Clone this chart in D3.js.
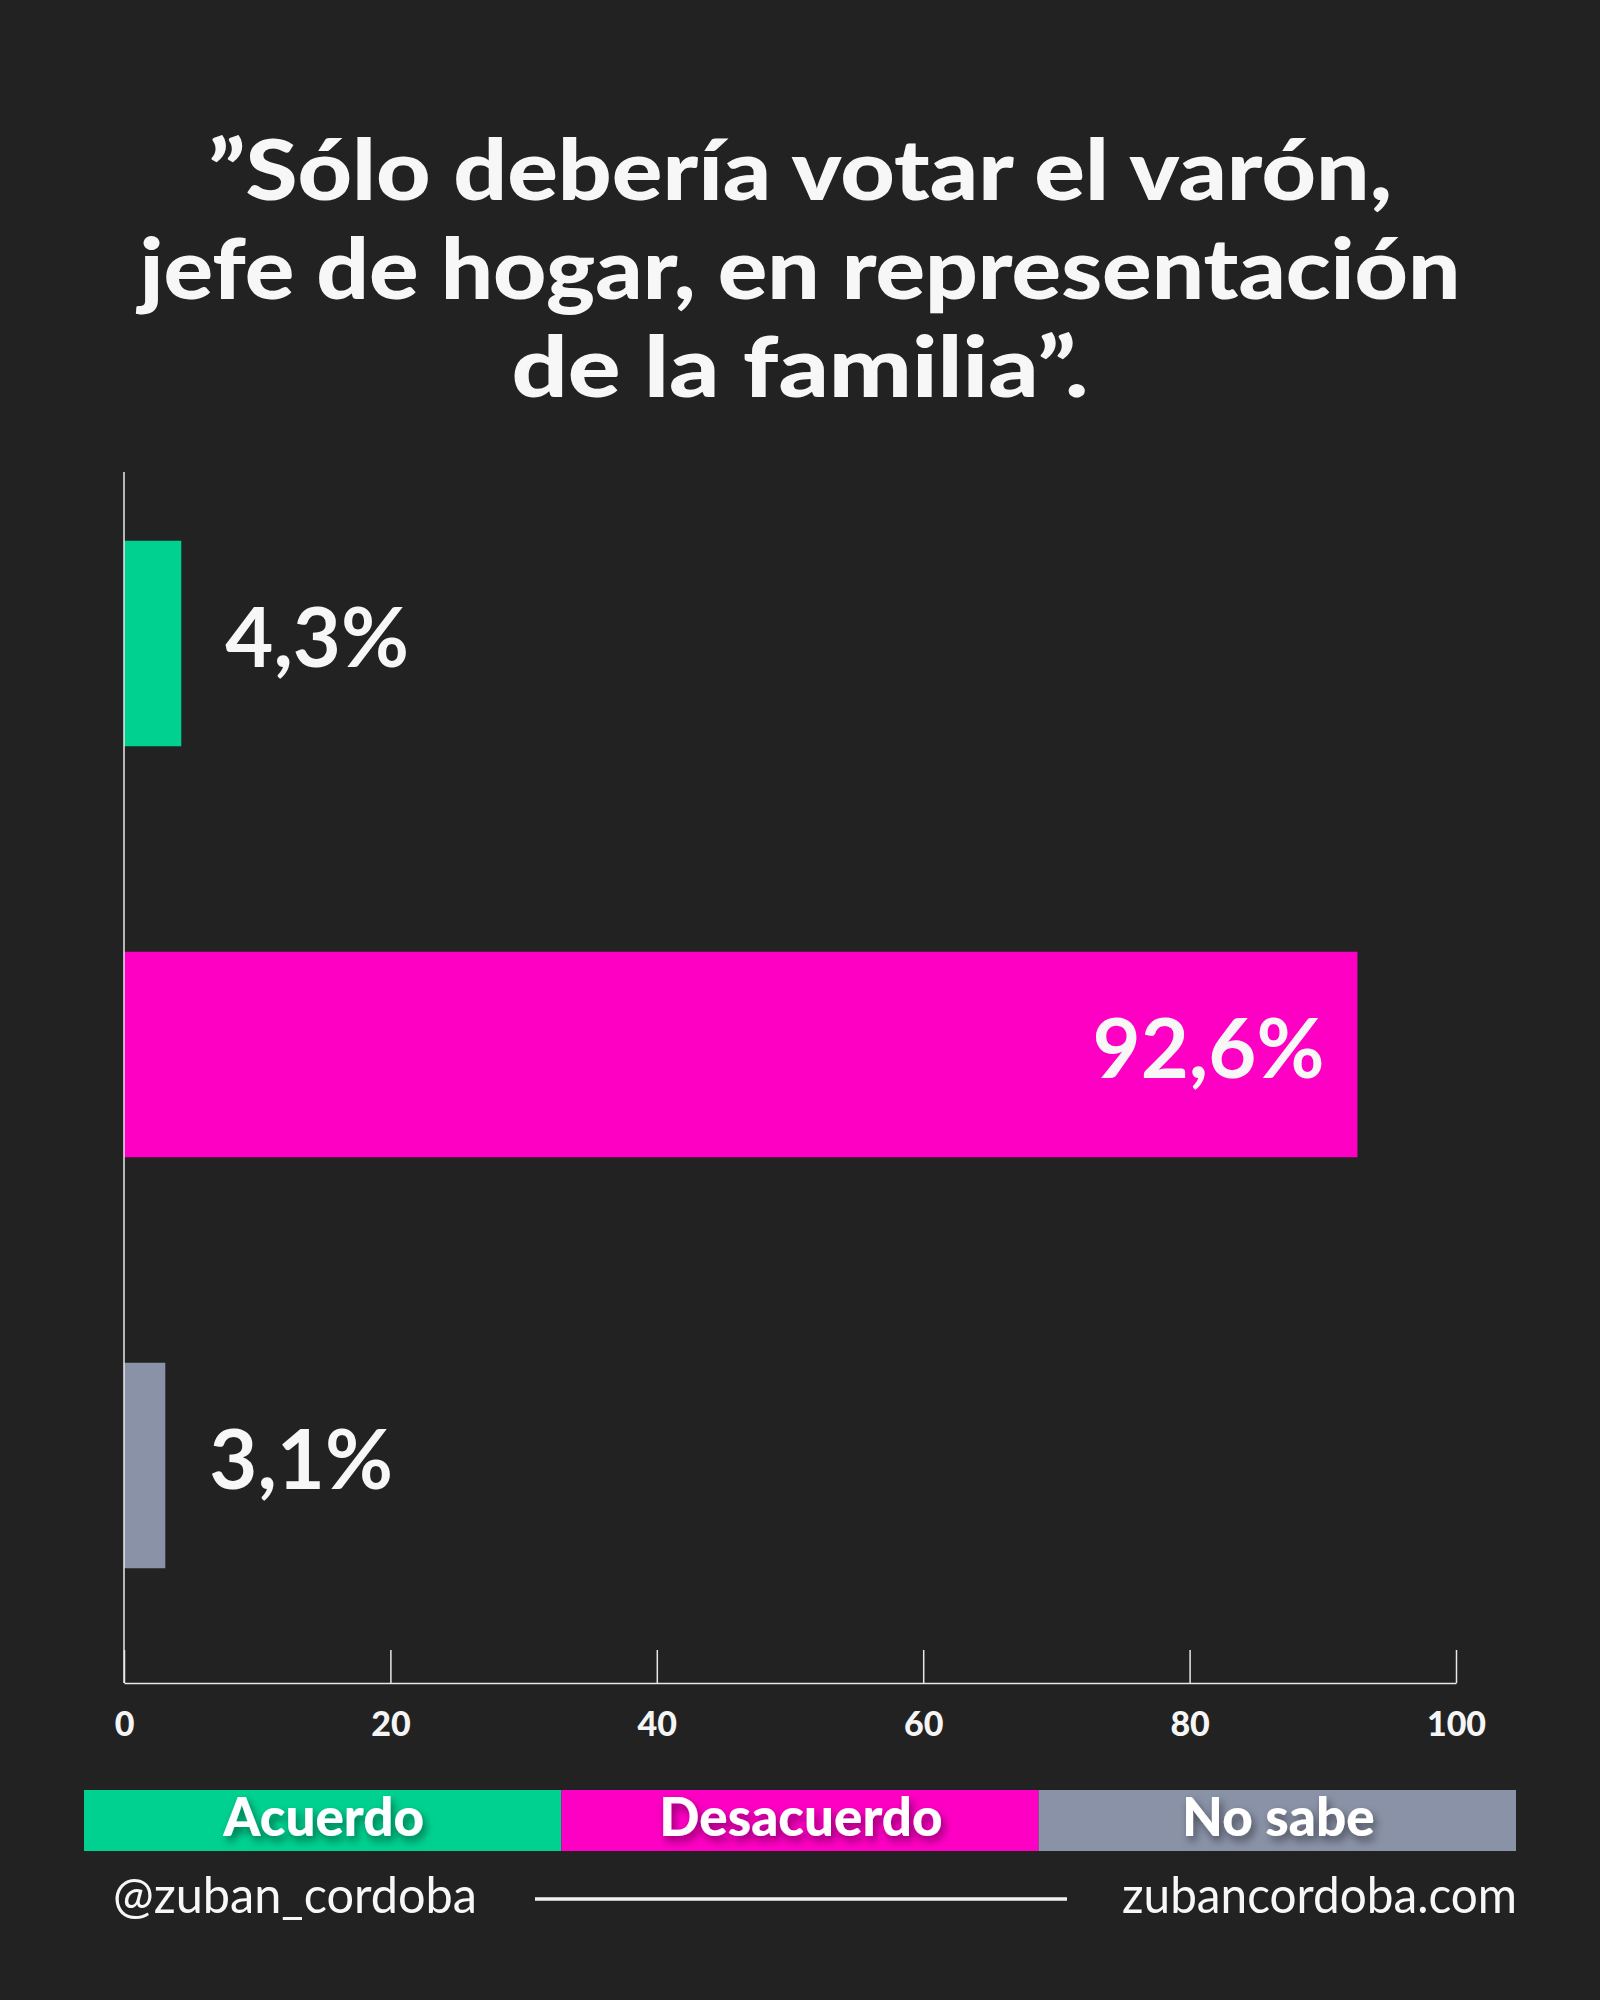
<!doctype html>
<html>
<head>
<meta charset="utf-8">
<style>
  body { margin: 0; background: #222222; }
  svg { display: block; }
  .axis text { font-family: Lato, "Open Sans", sans-serif; font-weight: 900; fill: #f5f5f5; }
  .axis path, .axis line { stroke: #e8e8e8; stroke-width: 1.5px; }
</style>
</head>
<body>
<div id="root"></div>
<script src="https://d3js.org/d3.v7.min.js"></script>
<script>
// data
var titleLines = ['\u201dSólo debería votar el varón,', 'jefe de hogar, en representación', 'de la familia\u201d.'];
var categories = ['Acuerdo', 'Desacuerdo', 'No sabe'];
var values = [4.3, 92.6, 3.1];
var colors = ['#00d190', '#fe00c3', '#8a92a7'];
var xTicks = [0, 20, 40, 60, 80, 100];
var footerLeft = '@zuban_cordoba';
var footerRight = 'zubancordoba.com';

var W = 1600, H = 2000;
var font = 'Lato, "Open Sans", sans-serif';

var svg = d3.select('#root').append('svg')
  .attr('width', W)
  .attr('height', H);

svg.append('rect').attr('width', W).attr('height', H).attr('fill', '#222222');

var defs = svg.append('defs');
var shadow = defs.append('filter').attr('id', 'shadow')
  .attr('x', '-20%').attr('y', '-30%').attr('width', '140%').attr('height', '170%');
shadow.append('feDropShadow')
  .attr('dx', 3).attr('dy', 5).attr('stdDeviation', 4)
  .attr('flood-color', '#000').attr('flood-opacity', 0.45);

// title
var titleWidths = [1184, 1321, 577];
svg.append('g').selectAll('text')
  .data(titleLines)
  .enter().append('text')
    .attr('x', 800)
    .attr('y', function(d, i) { return 200 + i * 98.5; })
    .attr('text-anchor', 'middle')
    .attr('font-family', font)
    .attr('font-weight', 900)
    .attr('font-size', 84)
    .attr('fill', '#f7f7f7')
    .attr('textLength', function(d, i) { return titleWidths[i]; })
    .attr('lengthAdjust', 'spacingAndGlyphs')
    .text(function(d) { return d; });

// scales
var plotTop = 472, plotBottom = 1683;
var x = d3.scaleLinear().domain([0, 100]).range([124, 1456]);
var y = d3.scaleBand().domain(categories).range([438, 1671])
  .paddingInner(0.5).paddingOuter(0.25);

var rows = categories.map(function(c, i) {
  return { cat: c, value: values[i], color: colors[i] };
});

var g = svg.append('g');

g.selectAll('.bar')
  .data(rows)
  .enter().append('rect')
    .attr('class', 'bar')
    .attr('x', x(0))
    .attr('y', function(d) { return y(d.cat); })
    .attr('width', function(d) { return x(d.value) - x(0); })
    .attr('height', y.bandwidth())
    .attr('fill', function(d) { return d.color; });

g.selectAll('.value')
  .data(rows)
  .enter().append('text')
    .attr('class', 'value')
    .attr('x', function(d) { return d.value > 50 ? x(d.value) - 33 : x(d.value) + 44; })
    .attr('y', function(d) { return y(d.cat) + y.bandwidth() / 2 + 23; })
    .attr('text-anchor', function(d) { return d.value > 50 ? 'end' : 'start'; })
    .attr('font-family', font)
    .attr('font-weight', 700)
    .attr('font-size', 83)
    .attr('fill', '#f7f7f7')
    .text(function(d) { return String(d.value).replace('.', ',') + '%'; });

// axes
var xAxis = d3.axisBottom(x)
  .tickValues(xTicks)
  .tickSizeInner(-33)
  .tickSizeOuter(0)
  .tickPadding(29);

svg.append('g')
  .attr('class', 'axis')
  .attr('transform', 'translate(0,' + plotBottom + ')')
  .call(xAxis);

svg.selectAll('.axis text').style('font-size', '34px');

svg.append('line')
  .attr('x1', x(0)).attr('x2', x(0))
  .attr('y1', plotTop).attr('y2', plotBottom)
  .attr('stroke', '#e8e8e8')
  .attr('stroke-width', 1.5);

// legend
var lx = d3.scaleBand().domain(categories).range([84, 1516]);
var legend = svg.append('g');
legend.selectAll('rect')
  .data(rows)
  .enter().append('rect')
    .attr('x', function(d) { return lx(d.cat); })
    .attr('y', 1790)
    .attr('width', lx.bandwidth())
    .attr('height', 61)
    .attr('fill', function(d) { return d.color; });

legend.selectAll('text')
  .data(rows)
  .enter().append('text')
    .attr('x', function(d) { return lx(d.cat) + lx.bandwidth() / 2 + 1; })
    .attr('y', 1836)
    .attr('text-anchor', 'middle')
    .attr('font-family', font)
    .attr('font-weight', 900)
    .attr('font-size', 53)
    .attr('fill', '#ffffff')
    .attr('filter', 'url(#shadow)')
    .text(function(d) { return d.cat; });

// footer
svg.append('text')
  .attr('x', 113).attr('y', 1913)
  .attr('font-family', font)
  .attr('font-size', 50)
  .attr('fill', '#f7f7f7')
  .attr('textLength', 364)
  .attr('lengthAdjust', 'spacingAndGlyphs')
  .text(footerLeft);

svg.append('line')
  .attr('x1', 535).attr('x2', 1067)
  .attr('y1', 1899).attr('y2', 1899)
  .attr('stroke', '#f2f2f2')
  .attr('stroke-width', 3.5);

svg.append('text')
  .attr('x', 1517).attr('y', 1913)
  .attr('text-anchor', 'end')
  .attr('font-family', font)
  .attr('font-size', 50)
  .attr('fill', '#f7f7f7')
  .attr('textLength', 395)
  .attr('lengthAdjust', 'spacingAndGlyphs')
  .text(footerRight);
</script>
</body>
</html>
